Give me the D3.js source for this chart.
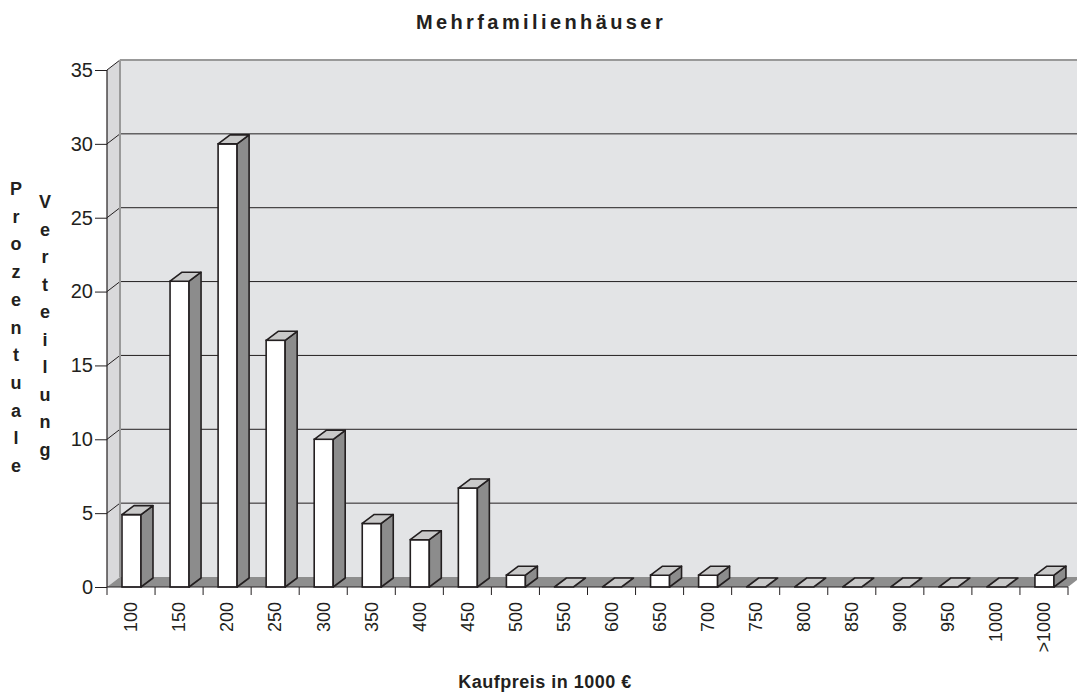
<!DOCTYPE html>
<html>
<head>
<meta charset="utf-8">
<script src="https://cdn.jsdelivr.net/npm/d3@7"></script>
<style>
  body { margin: 0; background: #ffffff; }
  svg { display: block; font-family: "Liberation Sans", Arial, sans-serif; }
</style>
</head>
<body>
<svg id="chart" width="1077" height="700"></svg>
<script>
"use strict";

// categories (Kaufpreis in 1000 €) and share in percent
var categories = ["100", "150", "200", "250", "300", "350", "400", "450", "500", "550",
                  "600", "650", "700", "750", "800", "850", "900", "950", "1000", ">1000"];
var values = [4.9, 20.7, 30.0, 16.7, 10.0, 4.3, 3.2, 6.7, 0.8, 0,
              0, 0.8, 0.8, 0, 0, 0, 0, 0, 0, 0.8];
var yTicks = [0, 5, 10, 15, 20, 25, 30, 35];
var yLabel1 = "Prozentuale".split("");
var yLabel2 = "Verteilung".split("");

var svg = d3.select("#chart");

var x = d3.scaleBand().domain(categories).range([107, 1068]),
    y = d3.scaleLinear().domain([0, 35]).range([587, 70]);

// depth of the 3d box and of the bars
var dx = 13, dy = 10,
    bdx = 12, bdy = 9,
    ink = "#231f20";

// side wall
svg.append("path")
  .attr("d", "M" + [107, y(0)] + "L" + [107, y(35)] + "L" + [107 + dx, y(35) - dy] + "L" + [107 + dx, y(0) - dy] + "Z")
  .attr("fill", "#d9d9db");

// back wall
svg.append("rect")
  .attr("x", 107 + dx).attr("y", y(35) - dy)
  .attr("width", 1077 - 107 - dx).attr("height", y(0) - y(35))
  .attr("fill", "#e3e4e6");
svg.append("line")
  .attr("x1", 107 + dx).attr("x2", 1077)
  .attr("y1", y(35) - dy).attr("y2", y(35) - dy)
  .attr("stroke", "#999999").attr("stroke-width", 2);

// floor
svg.append("path")
  .attr("d", "M" + [107, y(0)] + "L" + [1068, y(0)] + "L" + [1068 + dx, y(0) - dy] + "L" + [107 + dx, y(0) - dy] + "Z")
  .attr("fill", "#8e8e8e");

// gridlines on back wall and side wall
yTicks.filter(t => t > 0 && t < 35).forEach(function(t) {
  svg.append("line")
    .attr("x1", 107 + dx).attr("x2", 1077)
    .attr("y1", y(t) - dy).attr("y2", y(t) - dy)
    .attr("stroke", ink).attr("stroke-width", 1);
});
yTicks.filter(t => t > 0).forEach(function(t) {
  svg.append("line")
    .attr("x1", 107).attr("x2", 107 + dx)
    .attr("y1", y(t)).attr("y2", y(t) - dy)
    .attr("stroke", ink).attr("stroke-width", 1);
});

// back wall left edge
svg.append("line")
  .attr("x1", 107 + dx).attr("x2", 107 + dx)
  .attr("y1", y(35) - dy).attr("y2", y(0) - dy)
  .attr("stroke", "#9a9a9a").attr("stroke-width", 2);

// bars
var bars = svg.append("g").selectAll("g").data(categories).enter().append("g");
bars.each(function(c, i) {
  var g = d3.select(this),
      x0 = x(c) + 15, x1 = x0 + 19,
      top = y(values[i]), base = y(0);
  if (values[i] > 0) {
    g.append("rect")
      .attr("x", x0).attr("y", top).attr("width", x1 - x0).attr("height", base - top)
      .attr("fill", "#ffffff").attr("stroke", ink).attr("stroke-width", 1.6);
    g.append("path")
      .attr("d", "M" + [x1, base] + "L" + [x1, top] + "L" + [x1 + bdx, top - bdy] + "L" + [x1 + bdx, base - bdy] + "Z")
      .attr("fill", "#8c8c8c").attr("stroke", ink).attr("stroke-width", 1.6).attr("stroke-linejoin", "round");
  }
  g.append("path")
    .attr("d", "M" + [x0, top] + "L" + [x1, top] + "L" + [x1 + bdx, top - bdy] + "L" + [x0 + bdx, top - bdy] + "Z")
    .attr("fill", "#c9c9c9").attr("stroke", ink).attr("stroke-width", 1.6).attr("stroke-linejoin", "round");
});

// axis lines
svg.append("line")
  .attr("x1", 107).attr("x2", 107).attr("y1", y(35)).attr("y2", y(0))
  .attr("stroke", ink).attr("stroke-width", 1.2);
svg.append("line")
  .attr("x1", 107).attr("x2", 1068).attr("y1", y(0)).attr("y2", y(0))
  .attr("stroke", ink).attr("stroke-width", 1.2);

// y axis
var yAxis = svg.append("g")
  .attr("transform", "translate(107,0)")
  .call(d3.axisLeft(y).tickValues(yTicks).tickSize(12).tickSizeOuter(0).tickPadding(2));
yAxis.select(".domain").remove();
yAxis.selectAll(".tick line").attr("stroke", ink);
yAxis.selectAll(".tick text")
  .attr("font-family", "Liberation Sans, Arial, sans-serif")
  .attr("font-size", 20).attr("fill", ink);

// x ticks at band edges
categories.concat(["end"]).forEach(function(c, i) {
  var xp = i < categories.length ? x(c) : x.range()[1];
  svg.append("line")
    .attr("x1", xp).attr("x2", xp).attr("y1", y(0)).attr("y2", y(0) + 8)
    .attr("stroke", ink).attr("stroke-width", 1);
});

// x labels
var xAxis = svg.append("g")
  .attr("transform", "translate(0," + y(0) + ")")
  .call(d3.axisBottom(x).tickSize(0));
xAxis.select(".domain").remove();
xAxis.selectAll(".tick text")
  .attr("font-family", "Liberation Sans, Arial, sans-serif")
  .attr("font-size", 18).attr("fill", ink)
  .attr("transform", "rotate(-90)")
  .attr("text-anchor", "end")
  .attr("x", -15).attr("y", 0).attr("dy", "0.35em");

// title
svg.append("text")
  .attr("x", 541).attr("y", 29)
  .attr("text-anchor", "middle")
  .attr("font-size", 20).attr("font-weight", "bold")
  .attr("letter-spacing", "3.4px").attr("fill", ink)
  .text("Mehrfamilienhäuser");

// x axis title
svg.append("text")
  .attr("x", 545).attr("y", 688)
  .attr("text-anchor", "middle")
  .attr("font-size", 18).attr("font-weight", "bold")
  .attr("letter-spacing", "0.5px").attr("fill", ink)
  .text("Kaufpreis in 1000  €");

// stacked y axis title
svg.append("g").selectAll("text").data(yLabel1).enter().append("text")
  .attr("x", 16).attr("y", (d, i) => 195 + i * 27.7)
  .attr("text-anchor", "middle")
  .attr("font-size", 18).attr("font-weight", "bold").attr("fill", ink)
  .text(d => d);
svg.append("g").selectAll("text").data(yLabel2).enter().append("text")
  .attr("x", 45).attr("y", (d, i) => 208 + i * 27.5)
  .attr("text-anchor", "middle")
  .attr("font-size", 18).attr("font-weight", "bold").attr("fill", ink)
  .text(d => d);
</script>
</body>
</html>
